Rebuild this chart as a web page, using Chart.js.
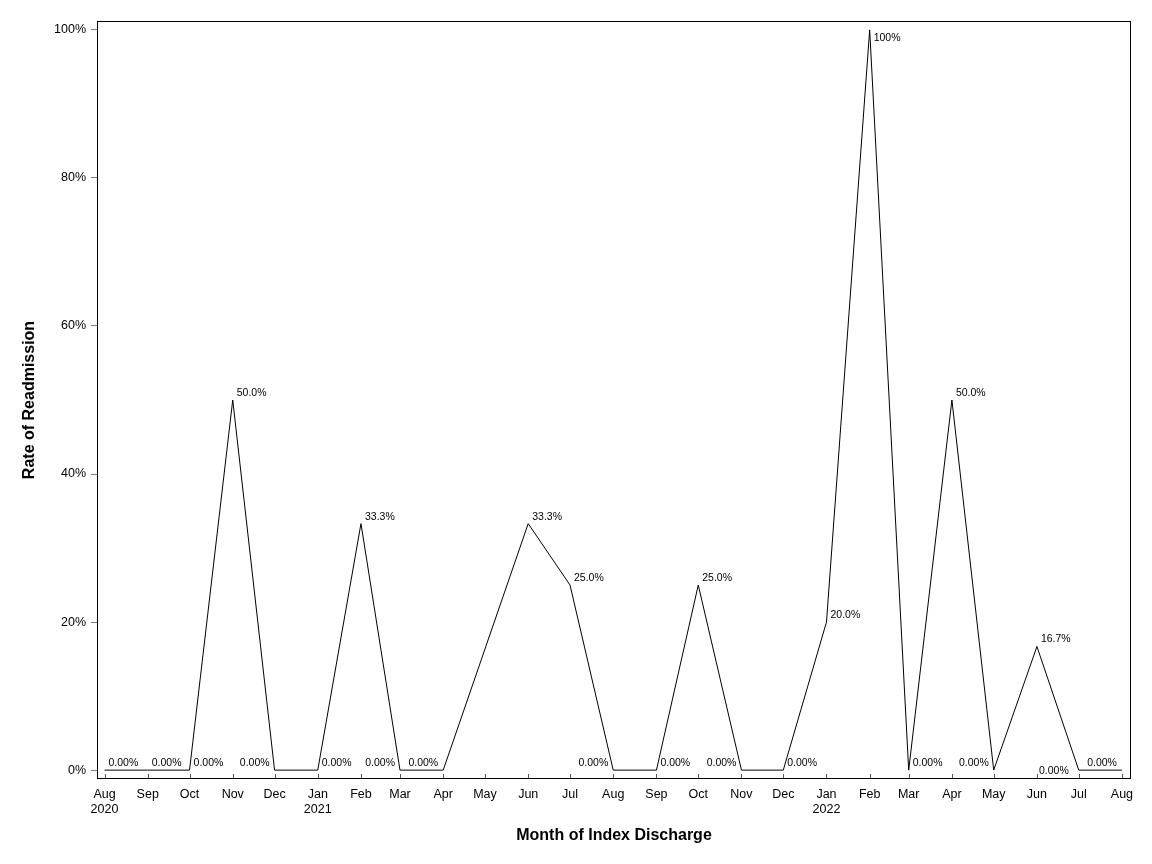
<!DOCTYPE html>
<html>
<head>
<meta charset="utf-8">
<script src="https://cdn.jsdelivr.net/npm/chart.js@4.4.1/dist/chart.umd.min.js"></script>
<style>
  html, body { margin: 0; padding: 0; background: #fff; }
  canvas { display: block; }
</style>
</head>
<body>
<canvas id="rateChart" width="1152" height="864"></canvas>
<script>
'use strict';

// month of index discharge (first day of each month)
const months = [
  '2020-08', '2020-09', '2020-10', '2020-11', '2020-12',
  '2021-01', '2021-02', '2021-03', '2021-04', '2021-05', '2021-06', '2021-07',
  '2021-08', '2021-09', '2021-10', '2021-11', '2021-12',
  '2022-01', '2022-02', '2022-03', '2022-04', '2022-05', '2022-06', '2022-07',
  '2022-08',
];
// rate of readmission in %, May 2021 has no value
const rates = [
  0, 0, 0, 50, 0,
  0, 33.3, 0, 0, null, 33.3, 25,
  0, 0, 25, 0, 0,
  20, 100, 0, 50, 0, 16.7, 0,
  0,
];
const yTicks = [0, 20, 40, 60, 80, 100];
const monthNames = ['Jan', 'Feb', 'Mar', 'Apr', 'May', 'Jun', 'Jul', 'Aug', 'Sep', 'Oct', 'Nov', 'Dec'];

const FONT = "'Liberation Sans', Arial, sans-serif";

function dayNum(m) {
  const [y, mo] = m.split('-').map(Number);
  return Date.UTC(y, mo - 1, 1) / 864e5;
}

// value labels next to each point (SAS-style placement)
const pointLabels = {
  id: 'pointLabels',
  afterDatasetsDraw(chart, args, opts) {
    const { ctx } = chart;
    const meta = chart.getDatasetMeta(0);
    ctx.save();
    ctx.font = opts.font;
    ctx.fillStyle = '#000';
    ctx.textBaseline = 'alphabetic';
    meta.data.forEach((pt, i) => {
      const v = rates[i];
      if (v == null) return;
      const txt = v.toPrecision(3) + '%';
      const place = opts.place[i] || 'ne';
      let x = pt.x, y = pt.y;
      if (place === 'ne') { ctx.textAlign = 'left';  x += 4;  y -= 4; }
      if (place === 'nw') { ctx.textAlign = 'right'; x -= 5;  y -= 4; }
      if (place === 'se') { ctx.textAlign = 'left';  x += 4;  y += 11; }
      if (place === 'w')  { ctx.textAlign = 'right'; x -= 10; y += 4; }
      ctx.fillText(txt, x, y);
    });
    ctx.restore();
  },
};

// box around the plot + inward ticks on the x axis
const frame = {
  id: 'frame',
  afterDraw(chart) {
    const { ctx, chartArea: a } = chart;
    const xs = chart.scales.x;
    ctx.save();
    ctx.strokeStyle = '#555';
    ctx.lineWidth = 1;
    xs.ticks.forEach(t => {
      const px = Math.round(xs.getPixelForValue(t.value)) + 0.5;
      ctx.beginPath();
      ctx.moveTo(px, a.bottom);
      ctx.lineTo(px, a.bottom - 5);
      ctx.stroke();
    });
    ctx.strokeStyle = '#000';
    ctx.strokeRect(a.left + 0.5, a.top + 0.5, a.right - a.left - 1, a.bottom - a.top - 1);
    ctx.restore();
  },
};

const first = dayNum(months[0]);
const last  = dayNum(months[months.length - 1]);

new Chart(document.getElementById('rateChart'), {
  type: 'line',
  data: {
    datasets: [{
      data: months.map((m, i) => ({ x: dayNum(m), y: rates[i] })),
      borderColor: '#000',
      borderWidth: 1,
      pointRadius: 0,
      tension: 0,
      spanGaps: true,
    }],
  },
  options: {
    responsive: false,
    animation: false,
    layout: { padding: { top: 21, right: 21, left: 0, bottom: 0 } },
    plugins: {
      legend: { display: false },
      tooltip: { enabled: false },
      pointLabels: {
        font: `10.5px ${FONT}`,
        place: ['ne', 'ne', 'ne', 'ne', 'nw', 'ne', 'ne', 'nw', 'nw', null, 'ne', 'ne',
                'nw', 'ne', 'ne', 'nw', 'ne', 'ne', 'se', 'ne', 'ne', 'nw', 'ne', 'w', 'nw'],
      },
    },
    scales: {
      x: {
        type: 'linear',
        min: first - 5.4,
        max: last + 6.5,
        afterBuildTicks: s => { s.ticks = months.map(m => ({ value: dayNum(m) })); },
        afterFit: s => { s.height = 85; },
        grid: { display: false },
        border: { display: false },
        ticks: {
          autoSkip: false,
          maxRotation: 0,
          padding: 0.5,
          color: '#000',
          font: { family: FONT, size: 12.5 },
          callback(value, index) {
            const d = new Date(value * 864e5);
            const name = monthNames[d.getUTCMonth()];
            return (index === 0 || d.getUTCMonth() === 0) ? [name, String(d.getUTCFullYear())] : name;
          },
        },
        title: {
          display: true,
          text: 'Month of Index Discharge',
          color: '#000',
          font: { family: FONT, size: 16, weight: 'bold' },
          padding: { top: 0, bottom: 18.4 },
        },
      },
      y: {
        min: -1.2,
        max: 101.2,
        afterBuildTicks: s => { s.ticks = yTicks.map(v => ({ value: v })); },
        afterFit: s => { s.width = 97; },
        grid: { drawOnChartArea: false, tickLength: 6, color: '#777' },
        border: { display: false },
        ticks: {
          padding: 5,
          color: '#000',
          font: { family: FONT, size: 12.5 },
          callback: v => v + '%',
        },
        title: {
          display: true,
          text: 'Rate of Readmission',
          color: '#000',
          font: { family: FONT, size: 16, weight: 'bold' },
          padding: { top: 20.4, bottom: 0 },
        },
      },
    },
  },
  plugins: [pointLabels, frame],
});
</script>
</body>
</html>
